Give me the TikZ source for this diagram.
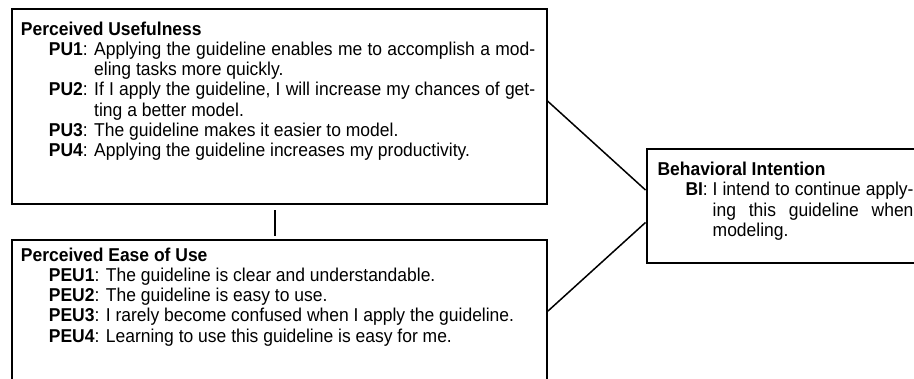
\documentclass[tikz,border=0pt]{standalone}
\usepackage{fontspec}
\setmainfont{Liberation Sans}[FakeStretch=0.94]
\newcommand\qitem[2]{\par\setbox0=\hbox{\textbf{#1}: }\hangindent=\wd0 \hangafter=1 \noindent\copy0 #2}
\newcommand\fstrut{\rule{0pt}{14.5pt}}
\tikzset{
  box/.style={draw=black, line width=2pt, rectangle, inner sep=0pt, anchor=north west},
  txt/.style={anchor=north west, inner sep=0pt, align=justify,
    font=\fontsize{18.6}{20.2}\selectfont,
    execute at begin node={\parindent=0pt\hyphenpenalty=10000\tolerance=10000\hbadness=10000\hfuzz=5pt\parfillskip=0pt plus 1fil}},
  link/.style={line width=1.5pt},
}
\begin{document}
\begin{tikzpicture}[x=1pt,y=-1pt]
\useasboundingbox (0,0) rectangle (914,378);
\clip (0,0) rectangle (914,378);
\fill[white] (0,0) rectangle (914,378);
% boxes
\node[box, minimum width=535pt, minimum height=195pt] (pu) at (10.5,7.5) {};
\node[box, minimum width=535.5pt, minimum height=200pt] (peu) at (10.5,239) {};
\node[box, minimum width=300pt, minimum height=114pt] (bi) at (645.5,147.5) {};
% texts
\node[txt, text width=514.3pt] (putxt) at (20.7,20.5) {\fstrut\textbf{Perceived Usefulness}\par
\leftskip=28pt
\qitem{PU1}{Applying the guideline enables me to accomplish a mod-\linebreak eling tasks more quickly.}
\qitem{PU2}{If I apply the guideline, I will increase my chances of get-\linebreak ting a better model.}
\qitem{PU3}{The guideline makes it easier to model.}
\qitem{PU4}{Applying the guideline increases my productivity.}\par};
\node[txt, text width=514.3pt] (peutxt) at (20.7,246.5) {\fstrut\textbf{Perceived Ease of Use}\par
\leftskip=28pt
\qitem{PEU1}{The guideline is clear and understandable.}
\qitem{PEU2}{The guideline is easy to use.}
\qitem{PEU3}{I rarely become confused when I apply the guideline.}
\qitem{PEU4}{Learning to use this guideline is easy for me.}\par};
\node[txt, text width=256pt] (bitxt) at (657.3,161) {\fstrut\textbf{Behavioral Intention}\par
\leftskip=28pt
\qitem{BI}{I intend to continue apply-\linebreak ing this guideline when\linebreak modeling.}\par};
% connectors
\draw[link] ([yshift=5pt]pu.east) -- ([yshift=15.5pt]bi.west);
\draw[link] ([yshift=-72pt]peu.north east) -- ([yshift=-17pt]bi.west);
\draw[line width=2pt] ([shift={(-4pt,-5.5pt)}]pu.south) -- ([shift={(-4.25pt,3pt)}]peu.north);
\end{tikzpicture}
\end{document}
